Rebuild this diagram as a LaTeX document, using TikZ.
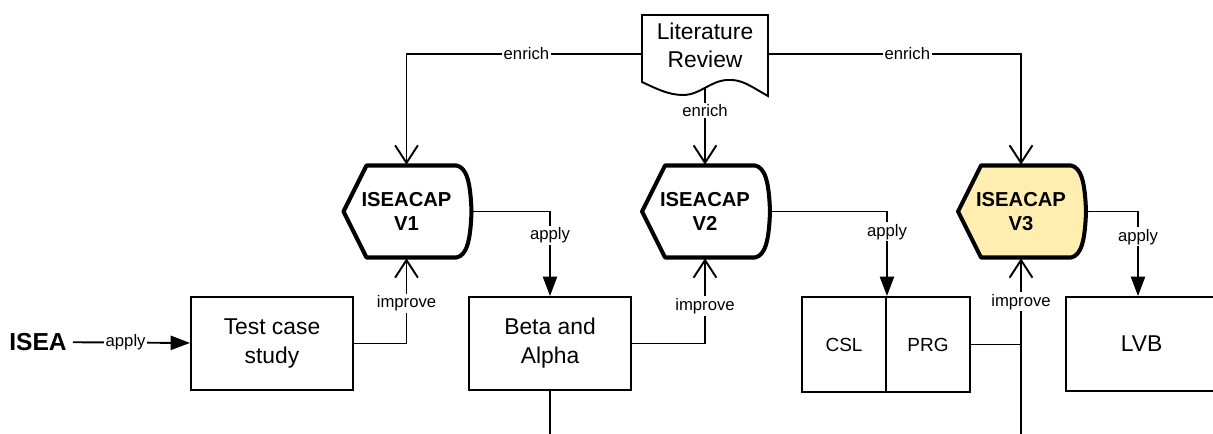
\documentclass[tikz,border=0pt]{standalone}
\usepackage{fontspec}
\setmainfont{Liberation Sans}
\usetikzlibrary{arrows.meta}

\definecolor{capyellow}{RGB}{255,238,176}

\tikzset{
	boxline/.style={draw=black, line width=1.1pt},
	workbox/.style={boxline, minimum width=32.4mm, minimum height=18.6mm, inner sep=0pt, align=center, font=\fontsize{13}{16.5}\selectfont},
	halfbox/.style={boxline, minimum width=16.8mm, minimum height=19mm, inner sep=0pt, font=\fontsize{10.8}{13}\selectfont},
	capline/.style={draw=black, line width=2.3pt, line join=round},
	captext/.style={minimum width=25.4mm, minimum height=18.6mm, inner sep=0pt, align=center, font=\bfseries\fontsize{11.5}{13.6}\selectfont},
	lbl/.style={fill=white, inner sep=1pt, font=\fontsize{9.5}{11}\selectfont},
	link/.style={draw=black, line width=1.1pt},
	openarr/.style={link, -{Straight Barb[length=10pt,width=13pt]}},
	fillarr/.style={link, -{Triangle[length=11pt,width=8pt]}}
}

% outline of the ISEACAP display shape, then its text node
\newcommand{\capbox}[4]{%
	\filldraw[capline, fill=#4] (#2-63,#3) -- (#2-40,#3-46) -- (#2+50,#3-46)
		.. controls (#2+60,#3-44) and (#2+64,#3-30) .. (#2+65,#3)
		.. controls (#2+64,#3+30) and (#2+60,#3+44) .. (#2+50,#3+46)
		-- (#2-40,#3+46) -- cycle;
	\node[captext] (#1) at (#2,#3) {ISEACAP\\#1};
}

\begin{document}
\begin{tikzpicture}[x=0.2mm, y=-0.2mm]
	
	\useasboundingbox (0,0) rectangle (1213,434);
	\clip (0,0) rectangle (1213,434);
	
	% literature review (document shape)
	\filldraw[boxline, fill=white] (642,15) -- (768,15) -- (768,96)
		.. controls (750,86) and (742,79) .. (727,80)
		.. controls (710,81) and (700,95) .. (683,95)
		.. controls (668,95) and (655,88) .. (642,82) -- cycle;
	\node[minimum width=25.2mm, minimum height=12mm, inner sep=0pt, align=center, font=\fontsize{13}{16}\selectfont] (lit) at (705,45) {Literature\\Review};
	
	% versions
	\capbox{V1}{406.5}{211.5}{white}
	\capbox{V2}{705}{211.5}{white}
	\capbox{V3}{1021}{211.5}{capyellow}
	
	% case studies
	\node[font=\bfseries\fontsize{14}{16}\selectfont] (isea) at (38,342) {ISEA};
	\node[workbox] (test) at (272,343.5) {Test case\\study};
	\node[workbox] (beta) at (550,343.5) {Beta and\\Alpha};
	\node[halfbox] (csl) at (844,344.5) {CSL};
	\node[halfbox] (prg) at (928,344.5) {PRG};
	% runs past the right border
	\node[workbox, minimum width=34mm, minimum height=18.8mm] (lvb) at (1151,344) {LVB\hspace*{3.8mm}};
	
	\coordinate (betaout) at (550,440);
	\coordinate (v3in) at (1021,440);
	
	% enrich
	\draw[openarr] ([yshift=-1.8mm]lit.west) -| node[lbl, pos=0.245] {enrich} (V1.north);
	\draw[openarr] ([yshift=-1.8mm]lit.east) -| node[lbl, pos=0.275] {enrich} (V3.north);
	\draw[openarr] ([yshift=-2.4mm]lit.south) -- node[lbl, pos=0.3] {enrich} (V2.north);
	
	% apply
	\draw[fillarr] (isea) -- node[lbl, pos=0.45] {apply} (test);
	\draw[fillarr] (V1.east) -| node[lbl, pos=0.64] {apply} (beta.north);
	\draw[fillarr] (V2.east) -| node[lbl, pos=0.62] {apply} (csl.north east);
	\draw[fillarr] (V3.east) -| node[lbl, pos=0.65] {apply} ([xshift=-2.6mm]lvb.north);
	
	% improve
	\draw[openarr] (test.east) -| node[lbl, pos=0.735] {improve} (V1.south);
	\draw[openarr] (beta.east) -| node[lbl, pos=0.72] {improve} (V2.south);
	\draw[openarr] (v3in) -- node[lbl, pos=0.76] {improve} (V3.south);
	\draw[link] (prg.east) -- (prg.east -| V3.south);
	\draw[link] (beta.south) -- (betaout);
	
\end{tikzpicture}
\end{document}
